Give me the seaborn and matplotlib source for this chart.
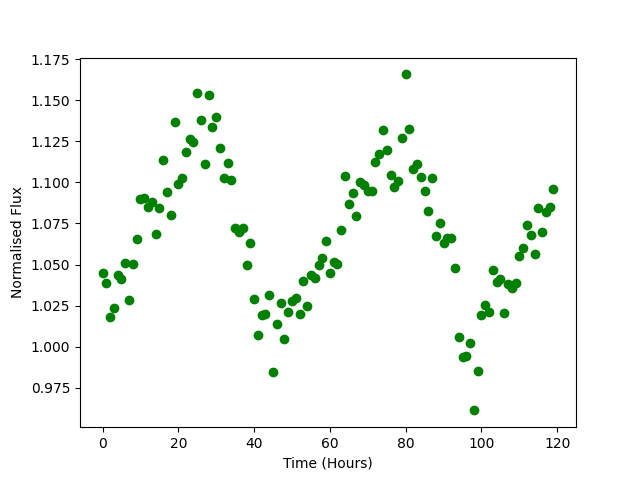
import matplotlib
matplotlib.use("Agg")
import matplotlib.pyplot as plt
import seaborn as sns
import numpy as np

time_hours = list(range(120))
flux = [
    1.0446, 1.0386, 1.0179, 1.0234, 1.0436, 1.0410, 1.0507, 1.0282, 1.0501, 1.0655,
    1.0898, 1.0903, 1.0848, 1.0882, 1.0684, 1.0842, 1.1134, 1.0939, 1.0799, 1.1365,
    1.0988, 1.1024, 1.1182, 1.1263, 1.1247, 1.1541, 1.1377, 1.1110, 1.1529, 1.1335,
    1.1395, 1.1207, 1.1024, 1.1115, 1.1012, 1.0720, 1.0700, 1.0720, 1.0495, 1.0629,
    1.0288, 1.0069, 1.0191, 1.0201, 1.0314, 0.9844, 1.0138, 1.0264, 1.0045, 1.0210,
    1.0280, 1.0298, 1.0199, 1.0398, 1.0248, 1.0436, 1.0420, 1.0497, 1.0538, 1.0643,
    1.0446, 1.0517, 1.0503, 1.0708, 1.1038, 1.0866, 1.0935, 1.0793, 1.1000, 1.0983,
    1.0947, 1.0947, 1.1125, 1.1172, 1.1316, 1.1195, 1.1044, 1.0970, 1.1008, 1.1268,
    1.1657, 1.1324, 1.1079, 1.1110, 1.1030, 1.0947, 1.0825, 1.1024, 1.0671, 1.0750,
    1.0633, 1.0663, 1.0659, 1.0477, 1.0057, 0.9936, 0.9946, 1.0025, 0.9613, 0.9852,
    1.0193, 1.0254, 1.0209, 1.0465, 1.0392, 1.0412, 1.0203, 1.0383, 1.0355, 1.0387,
    1.0550, 1.0599, 1.0738, 1.0678, 1.0562, 1.0842, 1.0698, 1.0817, 1.0848, 1.0957,
]

fig, ax = plt.subplots(figsize=(6.4, 4.8), dpi=100)
sns.scatterplot(x=time_hours, y=flux, color="green", s=36, edgecolor="green",
                linewidth=1, ax=ax)
ax.set_xlabel("Time (Hours)")
ax.set_ylabel("Normalised Flux")
fig.savefig("out.png", dpi=100)
